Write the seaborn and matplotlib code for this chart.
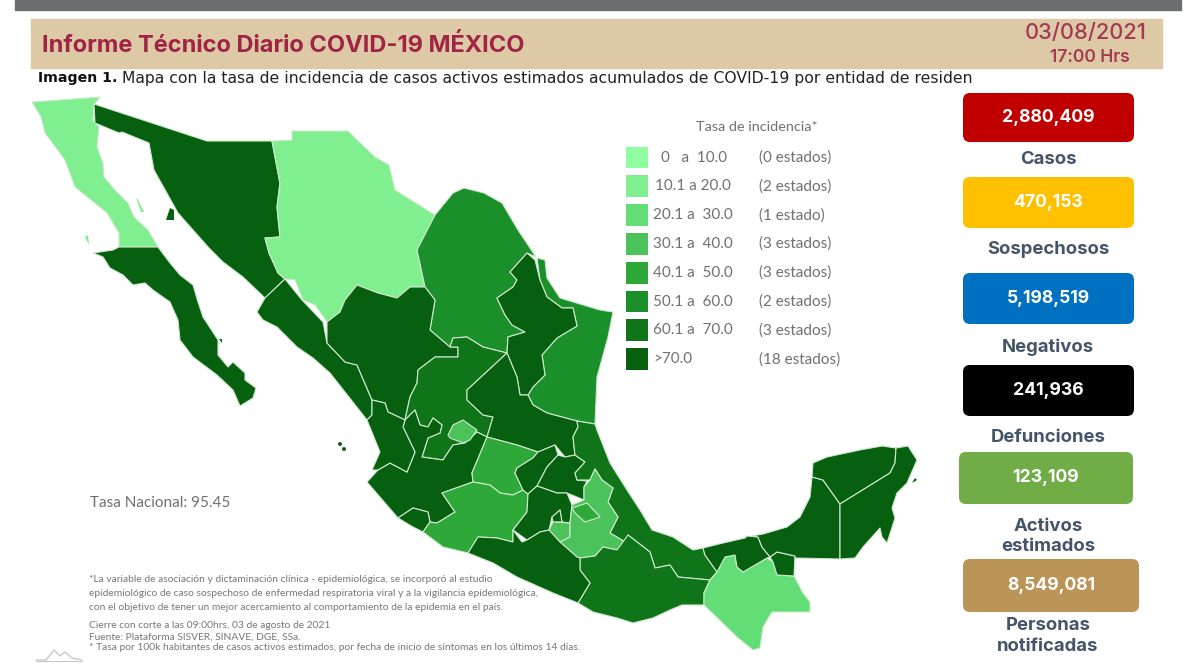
"""
Informe Tecnico Diario COVID-19 Mexico: incidence map with summary boxes
"""

import pandas as pd
import matplotlib.pyplot as plt
import seaborn as sns
from matplotlib.patches import FancyBboxPatch, Rectangle

# ---- data ----
bin_labels = ['0   a  10.0', '10.1 a 20.0', '20.1 a  30.0', '30.1 a  40.0',
              '40.1 a  50.0', '50.1 a  60.0', '60.1 a  70.0', '>70.0']
bin_counts = ['(0 estados)', '(2 estados)', '(1 estado)', '(3 estados)',
              '(3 estados)', '(2 estados)', '(3 estados)', '(18 estados)']
bin_colors = ['#90FFA0', '#7FEF8F', '#63DD75', '#4CC25A',
              '#2FA83A', '#1A8F2A', '#0F7518', '#075F10']

box_values = ['2,880,409', '470,153', '5,198,519', '241,936', '123,109', '8,549,081']
box_names = ['Casos', 'Sospechosos', 'Negativos', 'Defunciones',
             'Activos\nestimados', 'Personas\nnotificadas']
box_colors = ['#C00000', '#FFC000', '#0070C0', '#000000', '#70AD47', '#BB9457']

# state outlines (x, y in image pixels), with rate bin index
states = {
    'Baja California': (1, [(32,102),(100,97),(94,105),(93,120),(99,127),(97,147),(103,163),(104,177),(115,190),(128,203),(134,217),(148,230),(158,247),(119,247),(119,233),(107,213),(91,200),(75,187),(65,160),(45,133),(41,117)]),
    'Baja California Sur': (7, [(93,253),(103,257),(110,268),(123,275),(133,285),(145,283),(153,290),(170,302),(178,320),(180,340),(193,357),(217,375),(233,390),(240,406),(253,398),(256,388),(245,380),(245,373),(233,362),(228,367),(218,355),(218,340),(203,317),(198,302),(193,285),(180,275),(170,263),(158,247),(119,247),(113,250)]),
    'Sonora': (7, [(94,104),(207,141),(272,141),(275,157),(280,183),(277,207),(280,237),(265,238),(269,253),(278,273),(285,279),(265,298),(243,277),(223,262),(209,248),(178,213),(154,170),(149,143),(122,132),(119,133),(95,123)]),
    'Chihuahua': (1, [(272,141),(292,140),(292,131),(348,131),(375,157),(389,165),(395,190),(435,215),(417,250),(425,287),(410,287),(397,298),(378,293),(357,285),(345,300),(340,312),(327,322),(315,305),(303,300),(295,280),(285,279),(278,273),(269,253),(265,238),(280,237),(277,207),(280,183),(275,157)]),
    'Coahuila': (5, [(435,215),(453,193),(464,188),(484,193),(502,203),(518,230),(536,257),(527,253),(510,272),(517,280),(513,287),(497,298),(505,315),(512,325),(525,332),(508,337),(507,353),(483,347),(467,337),(453,338),(450,347),(430,330),(435,300),(425,287),(417,250)]),
    'Tamaulipas': (5, [(537,258),(545,260),(547,278),(560,298),(600,310),(613,312),(608,337),(597,377),(595,424),(577,421),(547,413),(533,405),(528,395),(533,387),(545,375),(542,355),(557,338),(577,326),(573,308),(562,308),(547,297),(540,280)]),
    'Nuevo Leon': (7, [(527,253),(535,260),(540,280),(547,297),(562,308),(573,308),(577,326),(557,338),(542,355),(545,375),(533,387),(528,395),(520,395),(517,377),(507,353),(508,337),(525,332),(512,325),(505,315),(497,298),(513,287),(517,280),(510,272)]),
    'Sinaloa': (7, [(285,279),(302,300),(323,322),(327,343),(345,362),(357,365),(372,400),(372,415),(367,420),(330,373),(313,358),(297,347),(277,327),(263,320),(257,312),(265,298)]),
    'Durango': (7, [(327,322),(340,312),(345,300),(357,285),(378,293),(397,298),(410,287),(425,287),(435,300),(430,330),(450,347),(458,347),(458,357),(435,357),(418,370),(417,383),(410,397),(405,420),(388,412),(385,403),(372,400),(357,365),(345,362),(327,343)]),
    'Zacatecas': (6, [(507,353),(483,347),(467,337),(453,338),(450,347),(458,347),(458,357),(435,357),(418,370),(417,383),(410,397),(405,420),(415,410),(420,425),(428,427),(433,418),(442,425),(440,433),(428,438),(422,457),(443,460),(453,445),(465,443),(477,432),(487,437),(493,417),(483,415),(467,400),(467,390)]),
    'Jalisco': (7, [(405,420),(415,410),(420,425),(428,427),(433,418),(442,425),(440,433),(428,438),(422,457),(443,460),(453,445),(465,443),(477,432),(487,437),(472,473),(473,482),(442,493),(455,512),(437,523),(430,522),(428,512),(413,508),(398,518),(367,482),(378,470),(390,463),(407,472),(415,452),(403,427)]),
    'Nayarit': (7, [(372,400),(385,403),(388,412),(405,420),(403,427),(415,452),(407,472),(390,463),(378,470),(372,470),(380,452),(367,420),(372,415)]),
    'Colima': (7, [(398,518),(413,508),(428,512),(430,522),(423,532),(413,527)]),
    'Aguascalientes': (3, [(463,420),(477,430),(470,440),(463,443),(450,438),(448,435),(453,425)]),
    'San Luis Potosi': (7, [(507,353),(517,377),(520,395),(528,395),(533,405),(547,413),(577,421),(578,427),(573,437),(575,455),(565,457),(555,445),(538,452),(517,445),(487,437),(493,417),(483,415),(467,400),(467,390)]),
    'Guanajuato': (4, [(487,437),(517,445),(538,452),(533,458),(517,468),(515,473),(523,490),(513,495),(500,493),(490,485),(473,482),(472,473)]),
    'Michoacan': (4, [(473,482),(490,485),(500,493),(513,495),(523,490),(528,494),(527,512),(513,530),(513,542),(497,538),(478,537),(468,553),(443,547),(423,532),(430,522),(437,523),(455,512),(442,493)]),
    'Queretaro': (7, [(538,452),(555,445),(558,455),(547,467),(537,486),(528,494),(523,490),(515,473),(517,468),(533,458)]),
    'Hidalgo': (7, [(558,455),(565,457),(575,455),(585,462),(575,473),(577,480),(587,481),(584,487),(584,500),(567,493),(557,493),(537,486),(547,467)]),
    'Veracruz': (6, [(577,421),(595,424),(597,430),(610,463),(627,490),(640,510),(652,530),(673,537),(693,550),(703,548),(705,555),(717,572),(710,580),(678,577),(670,565),(655,568),(650,552),(628,535),(627,543),(610,533),(618,517),(608,502),(613,488),(602,480),(595,469),(590,480),(577,480),(575,473),(585,462),(575,455),(573,437),(578,427)]),
    'Mexico': (7, [(537,486),(557,493),(567,493),(572,505),(570,523),(562,522),(560,510),(552,517),(549,530),(540,532),(527,540),(513,530),(527,512),(528,494)]),
    'Ciudad de Mexico': (7, [(552,517),(560,510),(562,522),(553,522)]),
    'Morelos': (3, [(549,530),(553,522),(570,523),(570,537),(560,542)]),
    'Puebla': (3, [(595,469),(602,480),(613,488),(608,502),(618,517),(610,533),(627,543),(617,550),(603,547),(595,556),(580,558),(577,557),(560,542),(570,537),(570,523),(572,505),(584,500),(584,487),(590,480)]),
    'Tlaxcala': (4, [(572,508),(587,503),(600,517),(585,522),(575,513)]),
    'Oaxaca': (6, [(580,558),(595,556),(603,547),(617,550),(628,535),(650,552),(655,568),(670,565),(678,577),(710,580),(704,593),(704,605),(682,605),(670,610),(653,618),(633,623),(617,618),(593,612),(578,603),(590,583),(580,570)]),
    'Guerrero': (7, [(468,553),(478,537),(497,538),(513,542),(513,530),(522,542),(527,540),(540,532),(549,530),(560,542),(577,557),(580,558),(580,570),(590,583),(578,603),(553,593),(517,577),(493,563)]),
    'Chiapas': (2, [(725,557),(735,555),(737,567),(743,572),(767,558),(773,562),(777,575),(794,576),(803,593),(810,602),(810,612),(772,612),(763,627),(760,648),(753,650),(737,637),(704,605),(704,593),(710,580),(717,572)]),
    'Tabasco': (7, [(703,548),(723,543),(745,538),(747,536),(758,537),(762,547),(770,557),(767,558),(743,572),(737,567),(735,555),(725,557),(717,572),(705,555)]),
    'Tabasco este': (7, [(777,552),(795,556),(794,576),(777,575),(773,562),(770,557)]),
    'Campeche': (7, [(752,536),(763,534),(787,527),(800,517),(810,497),(812,477),(823,480),(840,504),(840,559),(795,558),(795,556),(777,552),(770,557),(762,547),(758,537)]),
    'Yucatan': (7, [(812,477),(813,463),(827,457),(860,450),(882,446),(896,448),(895,463),(890,473),(840,504),(823,480)]),
    'Quintana Roo': (7, [(896,448),(908,446),(917,460),(907,483),(897,493),(892,508),(895,518),(887,543),(882,537),(880,528),(863,547),(855,558),(840,559),(840,504),(890,473),(895,463)]),
}
islands = [
    (7, [(166,220),(170,208),(174,210),(174,220)]),
    (1, [(85,237),(88,235),(89,245)]),
    (1, [(136,198),(138,200),(144,212),(141,212)]),
    (7, [(219,339),(222,339),(222,343)]),
    (7, [(912,483),(915,478),(917,480)]),
]
marias_x = [340, 344]
marias_y = [444, 449]
marias_bin = ['>70.0', '>70.0']

footnotes = [
    '*La variable de asociación y dictaminación clínica - epidemiológica, se incorporó al estudio',
    'epidemiológico de caso sospechoso de enfermedad respiratoria viral y a la vigilancia epidemiológica,',
    'con el objetivo de tener un mejor acercamiento al comportamiento de la epidemia en el país.',
    'Cierre con corte a las 09:00hrs, 03 de agosto de 2021',
    'Fuente: Plataforma SISVER, SINAVE, DGE, SSa.',
    '* Tasa por 100k habitantes de casos activos estimados, por fecha de inicio de síntomas en los últimos 14 días.',
]

sns.set_theme(style='white')
plt.rcParams['font.family'] = ['Lato', 'DejaVu Sans']

fig = plt.figure(figsize=(12, 6.64), dpi=100)
ax = fig.add_axes([0, 0, 1, 1])

# map
for name, (b, outline) in states.items():
    xs, ys = zip(*outline)
    ax.fill(xs, ys, facecolor=bin_colors[b], edgecolor='#cfe9cf', linewidth=0.8, joinstyle='round')
for b, outline in islands:
    xs, ys = zip(*outline)
    ax.fill(xs, ys, facecolor=bin_colors[b], edgecolor='none')

# legend swatches and small islands go through seaborn
legend_df = pd.DataFrame({'x': [637] * 8, 'y': [157.5 + 28.8 * i for i in range(8)], 'bin': bin_labels})
sns.scatterplot(data=legend_df, x='x', y='y', hue='bin', palette=bin_colors, marker='s', s=250,
                linewidth=0, legend=False, ax=ax)
marias_df = pd.DataFrame({'x': marias_x, 'y': marias_y, 'bin': marias_bin})
sns.scatterplot(data=marias_df, x='x', y='y', hue='bin', palette=dict(zip(bin_labels, bin_colors)),
                s=8, linewidth=0, legend=False, ax=ax)

ax.set_xlim(0, 1200)
ax.set_ylim(664, 0)
ax.axis('off')

# header
ax.add_patch(Rectangle((15, 0), 1166, 10, color='#6B6D6E'))
ax.add_patch(Rectangle((31, 19), 1131, 49, color='#DEC9A6'))
ax.text(42, 45, 'Informe Técnico Diario COVID-19 MÉXICO', fontsize=17, fontweight='bold',
        color='#A02444', family=['Inter', 'DejaVu Sans'], va='center')
ax.text(1086, 33, '03/08/2021', fontsize=15.7, fontweight='medium', color='#A43A52', ha='center', va='center',
        family=['Inter', 'DejaVu Sans'])
ax.text(1090, 57, '17:00 Hrs', fontsize=12.6, fontweight='semibold', color='#A43A52', ha='center', va='center',
        family=['Inter', 'DejaVu Sans'])
ax.text(38, 78, 'Imagen 1.', fontsize=10.2, fontweight='bold', color='#111111', va='center',
        family=['DejaVu Sans'])
ax.text(122, 78, 'Mapa con la tasa de incidencia de casos activos estimados acumulados de COVID-19 por entidad de residen',
        fontsize=11.25, color='#222222', va='center', family=['DejaVu Sans'])

# legend text
ax.text(757, 127, 'Tasa de incidencia*', fontsize=10.4, color='#707070', ha='center', va='center')
label_x = [661, 655, 653, 653, 653, 653, 653, 653]
for i, (lab, cnt, lx) in enumerate(zip(bin_labels, bin_counts, label_x)):
    y = 157.5 + 28.8 * i
    ax.text(lx, y, lab, fontsize=11, color='#707070', va='center')
    ax.text(759, y, cnt, fontsize=11, color='#707070', va='center')

# notes
ax.text(90, 503, 'Tasa Nacional: 95.45', fontsize=11, color='#707070', va='center')
for text, y in zip(footnotes, [579, 593, 607, 626, 637, 648]):
    ax.text(89, y, text, fontsize=7.35, color='#777777', va='center')

# small logo bottom left
ax.plot([36, 46, 54, 60, 65, 72, 82], [660, 660, 650, 656, 652, 658, 660], color='#C4C4C4', lw=0.9)
ax.plot([36, 82], [660.5, 660.5], color='#C4C4C4', lw=0.7)

# summary boxes
box_x = [(963, 1134), (963, 1134), (963, 1134), (963, 1134), (959, 1133), (963, 1139)]
box_y = [(93, 142), (177, 228), (273, 324), (365, 416), (452, 504), (559, 612)]
label_y = [159, 250, 347, 438, 536.5, 636]
for val, name, col, (x0, x1), (y0, y1), ly in zip(box_values, box_names, box_colors, box_x, box_y, label_y):
    ax.add_patch(FancyBboxPatch((x0 + 7, y0 + 7), x1 - x0 - 14, y1 - y0 - 14,
                                boxstyle='round,pad=7,rounding_size=7', facecolor=col, edgecolor='none'))
    ax.text((x0 + x1) / 2, (y0 + y1) / 2, val, fontsize=12.7, fontweight='bold', color='white',
            ha='center', va='center', family=['Inter', 'DejaVu Sans'])
    ax.text(1048, ly, name, fontsize=13.3, fontweight='bold', color='#44546A',
            ha='center', va='center', linespacing=1.27, family=['Inter', 'DejaVu Sans'])

plt.savefig('out.png', dpi=100)
plt.close()
